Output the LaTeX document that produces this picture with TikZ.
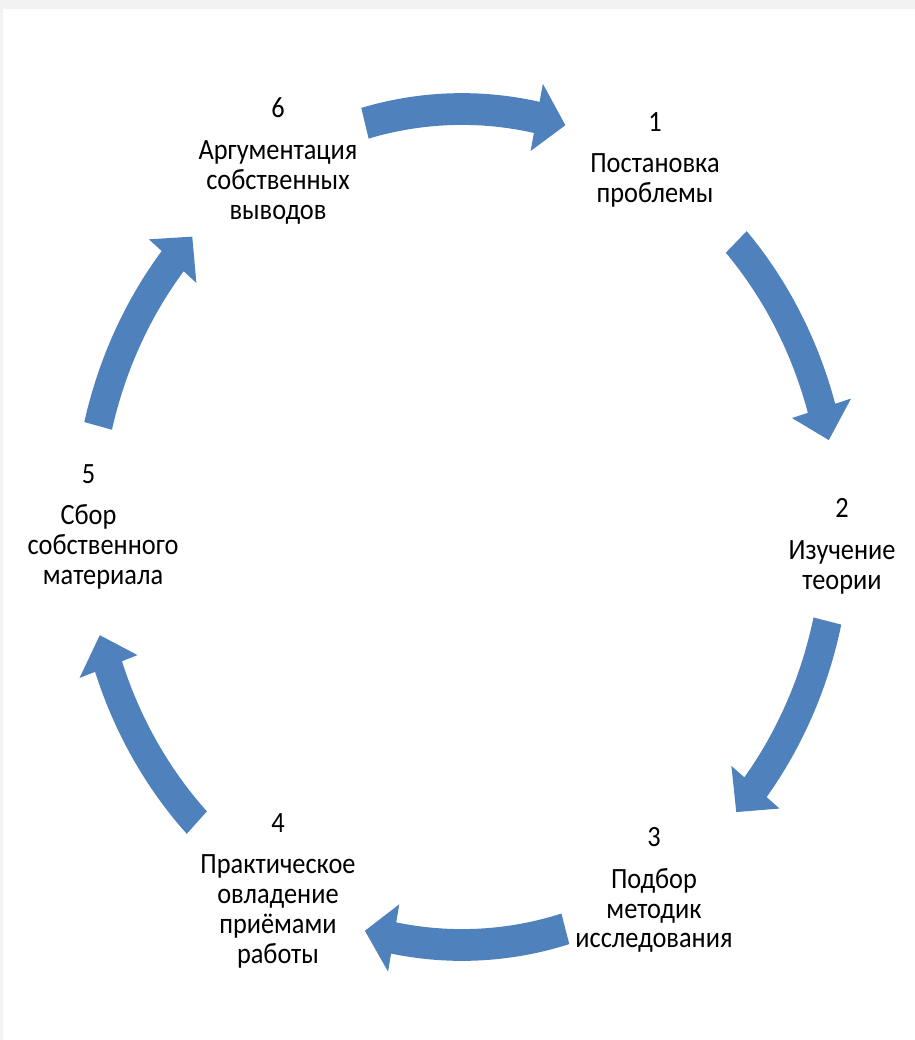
\documentclass[tikz,border=0pt]{standalone}
\usepackage{fontspec}
\setmainfont{Carlito}
\definecolor{cycblue}{RGB}{79,129,189}

\begin{document}
\begin{tikzpicture}[
    stage/.style={align=center, inner sep=0pt, font=\fontsize{15}{15.3}\selectfont, yscale=1.115, transform shape},
    cycarrow/.style={fill=cycblue, draw=none}]
\useasboundingbox (0,0) rectangle (18.3,-20.8);
% faint slide border
\fill[black!5] (0,0) rectangle (18.3,-0.18);
\fill[black!5] (0,0) rectangle (0.06,-20.8);

\node[stage] (n1) at (13.10,-3.20) {1\\[6pt]Постановка\\проблемы};
\node[stage] (n2) at (16.84,-10.92) {2\\[6pt]Изучение\\теории};
\node[stage] (n3) at (13.08,-17.80) {3\\[6pt]Подбор\\методик\\исследования};
\node[stage] (n4) at (5.56,-17.82) {4\\[6pt]Практическое\\овладение\\приёмами\\работы};
\node[stage] (n5) at (2.06,-10.54) {5\kern1.1em\\[6pt]Сбор\kern1.1em\\собственного\\материала};
\node[stage] (n6) at (5.56,-3.22) {6\\[6pt]Аргументация\\собственных\\выводов};

% curved block arrows on the ellipse
\begin{scope}[shift={(9.24,-10.54)}, xscale=7.5, yscale=8.36]
\foreach \ta/\tb [evaluate=\tb as \th using \tb+4.5] in {105/74, 43/12, -13/-43, -74/-105, -135/-165, 166/136}
    \fill[cycarrow] (\ta:1.038) arc[start angle=\ta, end angle=\th, radius=1.038]
        -- (\th:1.082) -- (\tb:1) -- (\th:0.918) -- (\th:0.962)
        arc[start angle=\th, end angle=\ta, radius=0.962] -- cycle;
\end{scope}
\end{tikzpicture}
\end{document}
